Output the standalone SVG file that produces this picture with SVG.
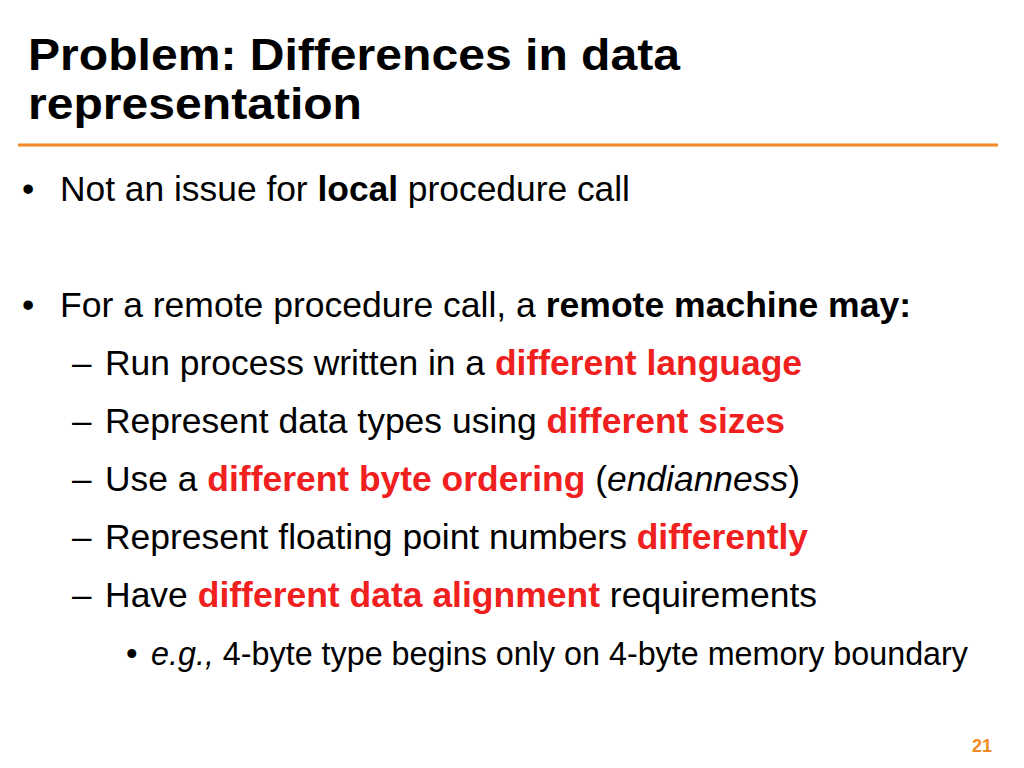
<svg xmlns="http://www.w3.org/2000/svg" width="1024" height="768" viewBox="0 0 1024 768">
<style>
text{font-family:"Liberation Sans",Arial,sans-serif;fill:#000}
.t{font-size:45px;font-weight:bold}
.b{font-size:35px}
.s{font-size:33px}
.k{font-weight:bold}
.r{font-weight:bold;fill:#f0201e}
.i{font-style:italic}
</style>
<rect width="1024" height="768" fill="#fff"/>
<text class="t" x="28" y="70" textLength="652" lengthAdjust="spacingAndGlyphs">Problem: Differences in data</text>
<text class="t" x="28" y="119" textLength="334" lengthAdjust="spacingAndGlyphs">representation</text>
<line x1="18" y1="145" x2="998" y2="145" stroke="#f08a24" stroke-width="3"/>
<text class="b" x="22" y="201">•</text>
<text class="b" x="60" y="201" textLength="570" lengthAdjust="spacingAndGlyphs">Not an issue for <tspan class="k">local</tspan> procedure call</text>
<text class="b" x="22" y="317">•</text>
<text class="b" x="60" y="317" textLength="851" lengthAdjust="spacingAndGlyphs">For a remote procedure call, a <tspan class="k">remote machine may:</tspan></text>
<text class="b" x="72" y="375">–</text>
<text class="b" x="105" y="375" textLength="697" lengthAdjust="spacingAndGlyphs">Run process written in a <tspan class="r">different language</tspan></text>
<text class="b" x="72" y="433">–</text>
<text class="b" x="105" y="433" textLength="680" lengthAdjust="spacingAndGlyphs">Represent data types using <tspan class="r">different sizes</tspan></text>
<text class="b" x="72" y="491">–</text>
<text class="b" x="105" y="491" textLength="695" lengthAdjust="spacingAndGlyphs">Use a <tspan class="r">different byte ordering</tspan> (<tspan class="i">endianness</tspan>)</text>
<text class="b" x="72" y="549">–</text>
<text class="b" x="105" y="549" textLength="703" lengthAdjust="spacingAndGlyphs">Represent floating point numbers <tspan class="r">differently</tspan></text>
<text class="b" x="72" y="607">–</text>
<text class="b" x="105" y="607" textLength="712" lengthAdjust="spacingAndGlyphs">Have <tspan class="r">different data alignment</tspan> requirements</text>
<text class="s" x="126" y="665">•</text>
<text class="s" x="151" y="665" textLength="817" lengthAdjust="spacingAndGlyphs"><tspan class="i">e.g.,</tspan> 4-byte type begins only on 4-byte memory boundary</text>
<text x="992" y="752" text-anchor="end" style="font-size:18px;font-weight:bold;fill:#f08a24">21</text>
</svg>
